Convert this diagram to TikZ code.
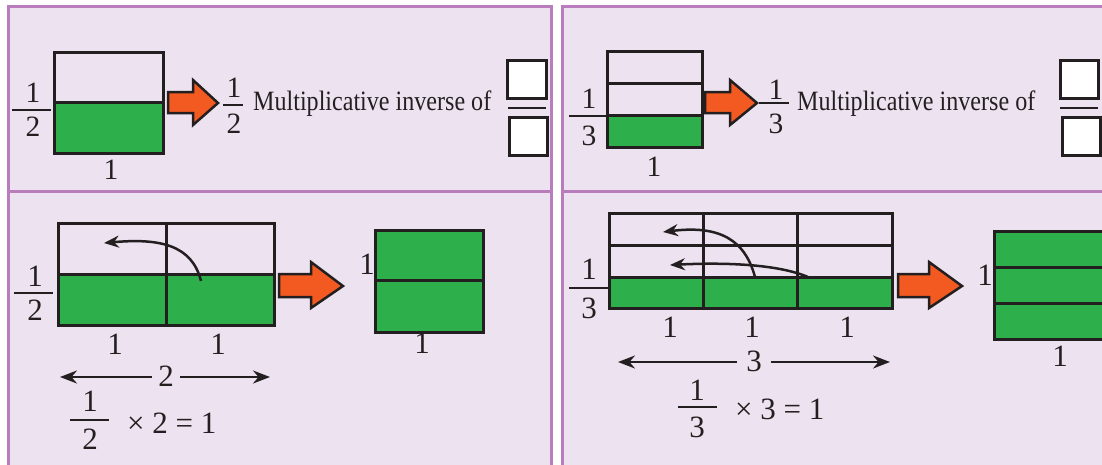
\documentclass[tikz,border=0pt]{standalone}
\usepackage{fontspec}
\setmainfont{Liberation Serif}
\newfontfamily\condfont{Liberation Serif}[FakeStretch=0.86]
\usetikzlibrary{arrows.meta}
\definecolor{panelbg}{RGB}{237,227,240}
\definecolor{panelln}{RGB}{185,125,190}
\definecolor{grn}{RGB}{45,176,75}
\definecolor{org}{RGB}{242,90,34}
\definecolor{ink}{RGB}{35,31,32}
\begin{document}
\begin{tikzpicture}[x=1pt,y=-1pt,
  panel/.style={fill=panelbg,draw=panelln,line width=3pt},
  gridln/.style={draw=ink,line width=3pt},
  greenfill/.style={fill=grn},
  wbox/.style={draw=ink,fill=white,line width=3pt},
  fbar/.style={draw=ink,line width=2.2pt},
  numt/.style={inner sep=0pt,text=ink,font=\fontsize{29.5}{32}\selectfont},
  numb/.style={inner sep=0pt,text=ink,font=\fontsize{31}{33}\selectfont},
  fatarrow/.style={fill=org,draw=ink,line width=2.5pt,line join=miter},
  curvarrow/.style={draw=ink,line width=2.5pt,-{Stealth[length=15pt,width=12pt]}},
  dimarrow/.style={draw=ink,line width=2.4pt,-{Stealth[length=17pt,width=13pt]}},
  txt/.style={inner sep=0pt,text=ink,font=\condfont\fontsize{28}{30}\selectfont}]
\useasboundingbox (0,0) rectangle (1102,464);
\clip (0,0) rectangle (1102,464);
\fill[white] (0,0) rectangle (1102,464);
% panels
\draw[panel] (8,6) rectangle (551,191);
\draw[panel] (8,191) rectangle (551,475);
\draw[panel] (562,6) rectangle (1115,191);
\draw[panel] (562,191) rectangle (1115,475);

% ---------- top-left ----------
\fill[greenfill] (54,102) rectangle (163,153);
\draw[gridln] (54,52) rectangle (163,153);
\draw[gridln] (54,102) -- (163,102);
\node[numt] (tl1) at (33,93) {1};
\node[numt] (tl2) at (33,127) {2};
\draw[fbar] (12,110) -- (51,110);
\node[numt] (tlb) at (111,170) {1};
\draw[fatarrow] (168,92) -- (193,92) -- (193,80) -- (218,103) -- (193,125) -- (193,113) -- (168,113) -- cycle;
\node[numt] (tr1a) at (234,88) {1};
\node[numt] (tr2a) at (234,124) {2};
\draw[fbar] (223,105) -- (243,105);
\node[txt,anchor=base west] (tlt) at (253,110) {Multiplicative inverse of};
\draw[wbox] (507,60) rectangle (546,98);
\draw[fbar] (508,108) -- (546,108);
\draw[wbox] (509,117) rectangle (547,155);

% ---------- top-right ----------
\fill[greenfill] (607,115) rectangle (702,147);
\draw[gridln] (607,51) rectangle (702,147);
\draw[gridln] (607,83) -- (702,83);
\draw[gridln] (607,115) -- (702,115);
\node[numt] (rl1) at (589,99) {1};
\node[numt] (rl3) at (589,136) {3};
\draw[fbar] (569,116) -- (607,116);
\node[numt] (rlb) at (654,167) {1};
\draw[fatarrow] (705,92) -- (730,92) -- (730,80) -- (757,103) -- (730,125) -- (730,113) -- (705,113) -- cycle;
\node[numt] (rr1) at (776,90) {1};
\node[numt] (rr3) at (776,124) {3};
\draw[fbar] (759,103) -- (789,103);
\node[txt,anchor=base west] (trt) at (797,110) {Multiplicative inverse of};
\draw[wbox] (1060,60) rectangle (1098,98);
\draw[fbar] (1060,108) -- (1098,108);
\draw[wbox] (1062,117) rectangle (1100,155);

% ---------- bottom-left ----------
\fill[greenfill] (58,274) rectangle (274,325);
\draw[gridln] (58,223) rectangle (274,325);
\draw[gridln] (58,274) -- (274,274);
\draw[gridln] (166,223) -- (166,325);
\coordinate (blc0) at (201,281);
\coordinate (blc1) at (104,243);
\draw[curvarrow] (blc0) .. controls (192,245) and (160,238) .. (blc1);
\node[numb] (bl1) at (35,276) {1};
\node[numb] (bl2) at (35,310) {2};
\draw[fbar] (14,293) -- (53,293);
\node[numb] (bll1) at (115,344) {1};
\node[numb] (bll2) at (218,344) {1};
\node[numb,inner xsep=6pt] (bltwo) at (166,376) {2};
\coordinate (blL) at (60,377);
\coordinate (blR) at (270,377);
\draw[dimarrow] (bltwo.west |- blL) -- (blL);
\draw[dimarrow] (bltwo.east |- blR) -- (blR);
\node[numb] (ble1) at (90,401) {1};
\node[numb] (ble2) at (90,439) {2};
\draw[fbar] (70,420) -- (109,420);
\node[numb,anchor=base west] (blet) at (127,433) {× 2 = 1};
\draw[fatarrow] (279,274) -- (311,274) -- (311,262) -- (343,286) -- (311,308) -- (311,297) -- (279,297) -- cycle;
\fill[greenfill] (375,230) rectangle (483,332);
\draw[gridln] (375,230) rectangle (483,332);
\draw[gridln] (375,280) -- (483,280);
\node[numb] (bls1) at (367,264) {1};
\node[numb] (bls2) at (422,343) {1};

% ---------- bottom-right ----------
\fill[greenfill] (609,277) rectangle (892,308);
\draw[gridln] (609,213) rectangle (892,308);
\draw[gridln] (609,245) -- (892,245);
\draw[gridln] (609,277) -- (892,277);
\draw[gridln] (703,213) -- (703,308);
\draw[gridln] (797,213) -- (797,308);
\coordinate (brc0) at (755,277);
\coordinate (brc1) at (663,232);
\coordinate (brd0) at (808,277);
\coordinate (brd1) at (670,265);
\draw[curvarrow] (brc0) .. controls (745,240) and (720,225) .. (brc1);
\draw[curvarrow] (brd0) .. controls (780,265) and (730,262) .. (brd1);
\node[numb] (br1) at (589,269) {1};
\node[numb] (br3) at (589,308) {3};
\draw[fbar] (569,288) -- (609,288);
\node[numb] (brl1) at (670,327) {1};
\node[numb] (brl2) at (752,327) {1};
\node[numb] (brl3) at (847,327) {1};
\node[numb,inner xsep=9pt] (brthree) at (754,361) {3};
\coordinate (brL) at (618,362);
\coordinate (brR) at (890,362);
\draw[dimarrow] (brthree.west |- brL) -- (brL);
\draw[dimarrow] (brthree.east |- brR) -- (brR);
\node[numb] (bre1) at (697,390) {1};
\node[numb] (bre3) at (697,427) {3};
\draw[fbar] (678,407) -- (717,407);
\node[numb,anchor=base west] (bret) at (735,419) {× 3 = 1};
\draw[fatarrow] (898,274) -- (929,274) -- (929,262) -- (962,286) -- (929,308) -- (929,297) -- (898,297) -- cycle;
\fill[greenfill] (994,231) rectangle (1112,339);
\draw[gridln] (994,231) rectangle (1112,339);
\draw[gridln] (994,267) -- (1112,267);
\draw[gridln] (994,303) -- (1112,303);
\node[numb] (brs1) at (985,275) {1};
\node[numb] (brs2) at (1060,356) {1};
\end{tikzpicture}
\end{document}
